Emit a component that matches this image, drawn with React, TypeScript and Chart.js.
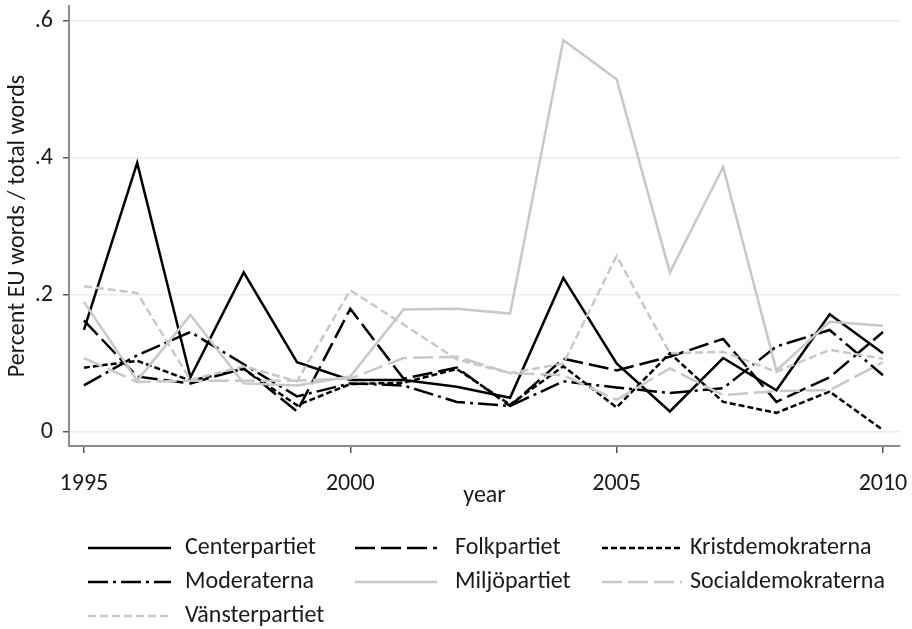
import React, { useEffect, useRef } from 'react';
import { Chart, registerables } from 'chart.js';

Chart.register(...registerables);

const years = [1995, 1996, 1997, 1998, 1999, 2000, 2001, 2002, 2003, 2004, 2005, 2006, 2007, 2008, 2009, 2010];
const centerpartiet = [0.149, 0.393, 0.080, 0.233, 0.102, 0.076, 0.076, 0.066, 0.050, 0.225, 0.100, 0.030, 0.108, 0.061, 0.172, 0.115];
const folkpartiet = [0.163, 0.081, 0.071, 0.093, 0.030, 0.180, 0.078, 0.094, 0.038, 0.107, 0.090, 0.110, 0.136, 0.044, 0.080, 0.146];
const kristdemokraterna = [0.094, 0.104, 0.075, 0.092, 0.039, 0.070, 0.072, 0.092, 0.040, 0.096, 0.036, 0.115, 0.044, 0.028, 0.059, 0.003];
const moderaterna = [0.068, 0.112, 0.146, 0.099, 0.052, 0.071, 0.068, 0.044, 0.038, 0.074, 0.065, 0.057, 0.064, 0.125, 0.149, 0.083];
const miljopartiet = [0.190, 0.075, 0.171, 0.071, 0.068, 0.081, 0.179, 0.180, 0.173, 0.572, 0.515, 0.233, 0.387, 0.090, 0.161, 0.155];
const socialdemokraterna = [0.108, 0.073, 0.075, 0.075, 0.075, 0.078, 0.108, 0.110, 0.086, 0.083, 0.047, 0.093, 0.054, 0.060, 0.061, 0.102];
const vansterpartiet = [0.213, 0.203, 0.076, 0.096, 0.074, 0.207, 0.157, 0.106, 0.086, 0.100, 0.257, 0.115, 0.117, 0.088, 0.120, 0.107];

const seriesLabels = ['Centerpartiet', 'Folkpartiet', 'Kristdemokraterna', 'Moderaterna', 'Miljöpartiet', 'Socialdemokraterna', 'Vänsterpartiet'];
const xTickValues = [1995, 2000, 2005, 2010];
const yTickValues = [0, 0.2, 0.4, 0.6];
const xTitle = 'year';
const yTitle = 'Percent EU words / total words';

const FONT_FAMILY = 'Carlito, Calibri, Lato, sans-serif';
const FONT_SIZE = 24;
const TEXT = '#1a1a1a';
const BLACK = '#000000';
const GREY = '#c8c8c8';
const AXIS = '#8c8c8c';

const styles = [
  { color: BLACK, dash: [] as number[] },
  { color: BLACK, dash: [20, 6] },
  { color: BLACK, dash: [6, 3] },
  { color: BLACK, dash: [20, 5, 3, 5] },
  { color: GREY, dash: [] as number[] },
  { color: GREY, dash: [20, 6] },
  { color: GREY, dash: [8, 4] },
];

const gridLegend = {
  id: 'gridLegend',
  afterDraw(chart: any) {
    const ctx = chart.ctx as CanvasRenderingContext2D;
    const cols = [
      { sx: 88, ex: 171, tx: 185 },
      { sx: 355, ex: 437, tx: 455 },
      { sx: 602, ex: 682, tx: 690 },
    ];
    const rows = [548, 582, 616];
    chart.data.datasets.forEach((ds: any, i: number) => {
      const c = cols[i % 3];
      const r = rows[Math.floor(i / 3)];
      ctx.save();
      ctx.strokeStyle = ds.borderColor;
      ctx.lineWidth = ds.borderWidth;
      ctx.setLineDash(ds.borderDash || []);
      ctx.beginPath();
      ctx.moveTo(c.sx, r);
      ctx.lineTo(c.ex, r);
      ctx.stroke();
      ctx.setLineDash([]);
      ctx.fillStyle = TEXT;
      ctx.font = `${FONT_SIZE}px ${FONT_FAMILY}`;
      ctx.textBaseline = 'middle';
      ctx.textAlign = 'left';
      ctx.fillText(ds.label, c.tx, r);
      ctx.restore();
    });
  },
};

export default function App() {
  const ref = useRef<HTMLCanvasElement | null>(null);

  useEffect(() => {
    if (!ref.current) return;
    const allSeries = [centerpartiet, folkpartiet, kristdemokraterna, moderaterna, miljopartiet, socialdemokraterna, vansterpartiet];
    const font = { family: FONT_FAMILY, size: FONT_SIZE };
    const chart = new Chart(ref.current, {
      type: 'line',
      data: {
        datasets: allSeries.map((vals, i) => ({
          label: seriesLabels[i],
          data: years.map((yr, j) => ({ x: yr, y: vals[j] })),
          borderColor: styles[i].color,
          borderDash: styles[i].dash,
          borderWidth: 2.5,
          pointRadius: 0,
          tension: 0,
          fill: false,
          order: -i,
        })),
      },
      options: {
        animation: false,
        responsive: false,
        maintainAspectRatio: false,
        layout: { padding: { left: 0, right: 12, top: 6, bottom: 119 } },
        plugins: { legend: { display: false }, tooltip: { enabled: false } },
        scales: {
          x: {
            type: 'linear',
            min: 1994.72,
            max: 2010.32,
            afterBuildTicks: (s: any) => {
              s.ticks = xTickValues.map((v) => ({ value: v }));
            },
            afterFit: (s: any) => {
              s.height = 64;
              s.paddingLeft = 0;
              s.paddingRight = 0;
            },
            ticks: {
              font,
              color: TEXT,
              padding: 17,
              maxRotation: 0,
              autoSkip: false,
              callback: (v: any) => String(v),
            },
            grid: { drawOnChartArea: false, color: AXIS, tickColor: '#555', tickLength: 7, lineWidth: 1.5 },
            border: { color: AXIS, width: 2 },
            title: { display: true, text: xTitle, font, color: TEXT, padding: { top: 0, bottom: 0 } },
          },
          y: {
            type: 'linear',
            min: -0.0204,
            max: 0.622,
            afterBuildTicks: (s: any) => {
              s.ticks = yTickValues.map((v) => ({ value: v }));
            },
            afterFit: (s: any) => {
              s.width = 69;
              s.paddingTop = 0;
              s.paddingBottom = 0;
            },
            ticks: {
              font,
              color: TEXT,
              padding: 10,
              callback: (v: any) => (v === 0 ? '0' : String(v).replace(/^0/, '')),
            },
            grid: { color: '#ebebeb', lineWidth: 1.5, tickColor: '#555', tickLength: 6 },
            border: { color: AXIS, width: 2 },
            title: { display: true, text: yTitle, font, color: TEXT, padding: { top: 4, bottom: 0 } },
          },
        },
      },
      plugins: [gridLegend],
    } as any);
    return () => chart.destroy();
  }, []);

  return (
    <div style={{ position: 'fixed', left: 0, top: 0, width: 912, height: 629, background: '#fff' }}>
      <canvas ref={ref} width={912} height={629} />
    </div>
  );
}
